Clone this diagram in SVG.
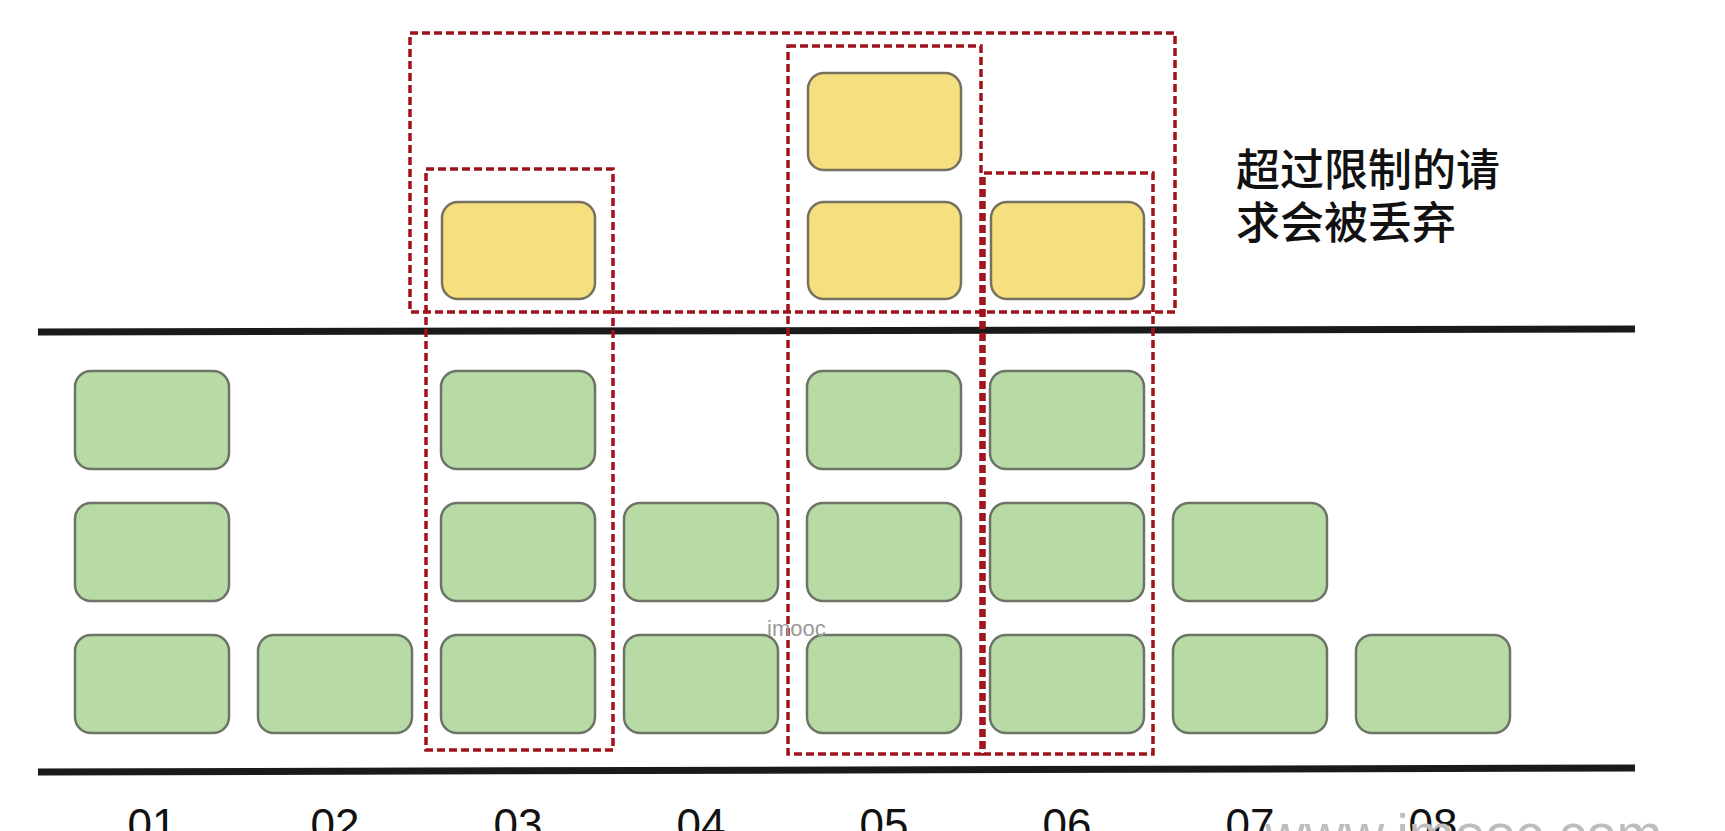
<svg xmlns="http://www.w3.org/2000/svg" width="1725" height="831" viewBox="0 0 1725 831">
<style>
.g{fill:#b8dba6;stroke:#6c7467;stroke-width:2.5}
.y{fill:#f6df7e;stroke:#77715f;stroke-width:2.5}
.d{fill:none;stroke:#a0121b;stroke-width:3.5;stroke-dasharray:8 4}
.ax{stroke:#1a1a1a;stroke-width:7;fill:none}
.lbl{font-family:"Liberation Sans",Arial,sans-serif;font-size:44px;fill:#111;text-anchor:middle}
.cn{font-family:"Noto Sans CJK SC","Noto Sans",sans-serif;font-size:44px;fill:#111;font-weight:500}
</style>
<rect width="1725" height="831" fill="#fff"/>
<g id="axes">
<line class="ax" x1="38" y1="332" x2="1635" y2="329"/>
<line class="ax" x1="38" y1="772" x2="1635" y2="768"/>
</g>
<g id="col01"><rect class="g" x="75" y="371" width="154" height="98" rx="16"/><rect class="g" x="75" y="503" width="154" height="98" rx="16"/><rect class="g" x="75" y="635" width="154" height="98" rx="16"/></g>
<g id="col02"><rect class="g" x="258" y="635" width="154" height="98" rx="16"/></g>
<g id="col03"><rect class="y" x="442" y="202" width="153" height="97" rx="16"/><rect class="g" x="441" y="371" width="154" height="98" rx="16"/><rect class="g" x="441" y="503" width="154" height="98" rx="16"/><rect class="g" x="441" y="635" width="154" height="98" rx="16"/></g>
<g id="col04"><rect class="g" x="624" y="503" width="154" height="98" rx="16"/><rect class="g" x="624" y="635" width="154" height="98" rx="16"/></g>
<g id="col05"><rect class="y" x="808" y="73" width="153" height="97" rx="16"/><rect class="y" x="808" y="202" width="153" height="97" rx="16"/><rect class="g" x="807" y="371" width="154" height="98" rx="16"/><rect class="g" x="807" y="503" width="154" height="98" rx="16"/><rect class="g" x="807" y="635" width="154" height="98" rx="16"/></g>
<g id="col06"><rect class="y" x="991" y="202" width="153" height="97" rx="16"/><rect class="g" x="990" y="371" width="154" height="98" rx="16"/><rect class="g" x="990" y="503" width="154" height="98" rx="16"/><rect class="g" x="990" y="635" width="154" height="98" rx="16"/></g>
<g id="col07"><rect class="g" x="1173" y="503" width="154" height="98" rx="16"/><rect class="g" x="1173" y="635" width="154" height="98" rx="16"/></g>
<g id="col08"><rect class="g" x="1356" y="635" width="154" height="98" rx="16"/></g>
<g id="limits">
<rect class="d" x="410" y="33" width="765" height="279"/>
<rect class="d" x="426" y="169" width="187" height="581"/>
<rect class="d" x="788" y="46" width="193" height="708"/>
<rect class="d" x="984" y="173" width="169" height="581"/>
</g>
<g id="note">
<text class="cn" x="1236" y="186">超过限制的请</text>
<text class="cn" x="1236" y="239">求会被丢弃</text>
</g>
<g id="labels">
<text class="lbl" x="152" y="840">01</text>
<text class="lbl" x="335" y="840">02</text>
<text class="lbl" x="518" y="840">03</text>
<text class="lbl" x="701" y="840">04</text>
<text class="lbl" x="884" y="840">05</text>
<text class="lbl" x="1067" y="840">06</text>
<text class="lbl" x="1250" y="840">07</text>
<text class="lbl" x="1433" y="840">08</text>
</g>
<g id="watermark" font-family="'Liberation Sans',Arial,sans-serif" fill="#9a9a9a">
<text x="767" y="636" font-size="22">imooc</text>
<text x="1265" y="853" font-size="55" fill="#bdbdbd">www.imooc.com</text>
</g>
</svg>
